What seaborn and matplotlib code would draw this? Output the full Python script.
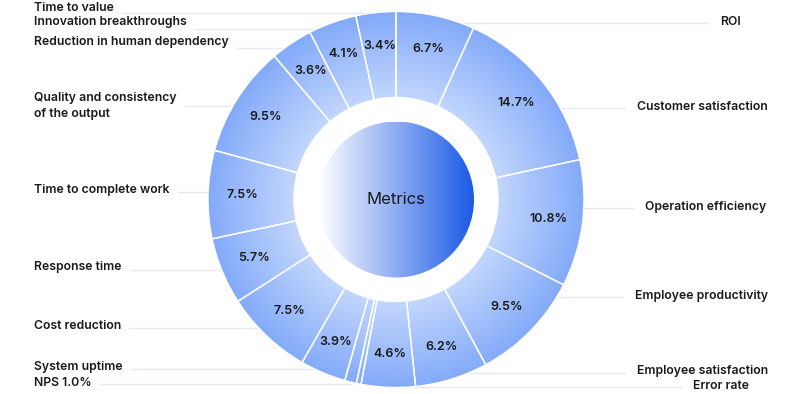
import numpy as np
import matplotlib.pyplot as plt
import seaborn as sns
from matplotlib.colors import to_rgb
from matplotlib.patches import Circle

sns.set_theme(style="white")
plt.rcParams['font.family'] = ['Inter', 'DejaVu Sans']

# Data, clockwise from the top
categories = ["ROI", "Customer satisfaction", "Operation efficiency",
              "Employee productivity", "Employee satisfaction", "Error rate",
              "", "NPS 1.0%", "System uptime", "Cost reduction", "Response time",
              "Time to complete work", "Quality and consistency\nof the output",
              "Reduction in human dependency", "Innovation breakthroughs",
              "Time to value"]
shares = [6.7, 14.7, 10.8, 9.5, 6.2, 4.6, 0.4, 1.0, 3.9, 7.5, 5.7, 7.5, 9.5,
          3.6, 4.1, 3.4]

# Outside label layout (pixels from top-left)
label_x = [720, 637, 645, 635, 637, 693, 0, 34, 34, 34, 34, 34, 34, 34, 34, 34]
label_y = [22, 107, 207, 296, 371, 386, 0, 383, 367, 326, 267, 190, 106, 42, 22, 8]
guide_y = [23, 108, 208, 297, 373, 387, 0, 384, 369, 328, 270, 192, 106, 48, 29, 13]

W, H = 800, 394
cx, cy = 396, H - 199.5
R_OUT, R_IN, R_CORE = 188, 102, 78

fig = plt.figure(figsize=(W / 100, H / 100), dpi=100)
ax = fig.add_axes([0, 0, 1, 1])

wedges, _ = ax.pie(shares, radius=R_OUT, center=(cx, cy), startangle=90,
                   counterclock=False,
                   wedgeprops=dict(width=R_OUT - R_IN, facecolor='none',
                                   edgecolor='white', linewidth=1, zorder=3))
ax.set_xlim(0, W)
ax.set_ylim(0, H)
ax.set_aspect('equal')
ax.axis('off')

# radial gradient for the ring
n = 500
xs = np.linspace(cx - R_OUT, cx + R_OUT, n)
ys = np.linspace(cy - R_OUT, cy + R_OUT, n)
X, Y = np.meshgrid(xs, ys)
t = np.clip((np.hypot(X - cx, Y - cy) - R_IN) / (R_OUT - R_IN), 0, 1)
light, dark = np.array(to_rgb('#c3d7fd')), np.array(to_rgb('#83aaf9'))
ring = light + (dark - light) * t[..., None]
for w in wedges:
    im = ax.imshow(ring, extent=(cx - R_OUT, cx + R_OUT, cy - R_OUT, cy + R_OUT),
                   origin='lower', interpolation='bilinear', zorder=2)
    im.set_clip_path(w)

# center disc with horizontal gradient
core = Circle((cx, cy), R_CORE, facecolor='none', edgecolor='none', zorder=4)
ax.add_patch(core)
g = np.linspace(0, 1, 256)
c0, c1 = np.array(to_rgb('#ffffff')), np.array(to_rgb('#1b5ae6'))
grad = (c0 + (c1 - c0) * g[:, None])[None, :, :]
im = ax.imshow(grad, extent=(cx - R_CORE, cx + R_CORE, cy - R_CORE, cy + R_CORE),
               origin='lower', interpolation='bilinear', aspect='auto', zorder=4)
im.set_clip_path(core)
ax.text(cx, cy, "Metrics", ha='center', va='center', fontsize=12,
        color='#1a1a1a', zorder=5)
ax.set_xlim(0, W)
ax.set_ylim(0, H)

# percentages inside the ring
for w, v in zip(wedges, shares):
    if v < 2:
        continue
    ang = np.deg2rad((w.theta1 + w.theta2) / 2)
    r = 0.82 * R_OUT
    ax.text(cx + r * np.cos(ang), cy + r * np.sin(ang), f"{v}%", ha='center',
            va='center', fontsize=9, fontweight='semibold', color='#1a1a1a',
            zorder=5)

# outside labels with guide lines
fig.canvas.draw()
rend = fig.canvas.get_renderer()
inv = ax.transData.inverted()
for w, name, lx, ly, gy in zip(wedges, categories, label_x, label_y, guide_y):
    if not name:
        continue
    txt = ax.text(lx, H - ly, name, ha='left', va='center', fontsize=8.8,
                  fontweight='semibold', color='#1a1a1a', linespacing=1.5,
                  zorder=5)
    bb = txt.get_window_extent(rend).transformed(inv)
    ang = np.deg2rad((w.theta1 + w.theta2) / 2)
    px = cx + R_OUT * np.cos(ang)
    if lx < cx:
        x0, x1 = bb.x1 + 8, max(px, bb.x1 + 20)
    else:
        x0, x1 = min(px, bb.x0 - 20), bb.x0 - 12
    ax.plot([x0, x1], [H - gy, H - gy], color='#e6e8f2', lw=1, zorder=1)

fig.savefig("out.png", dpi=100)
